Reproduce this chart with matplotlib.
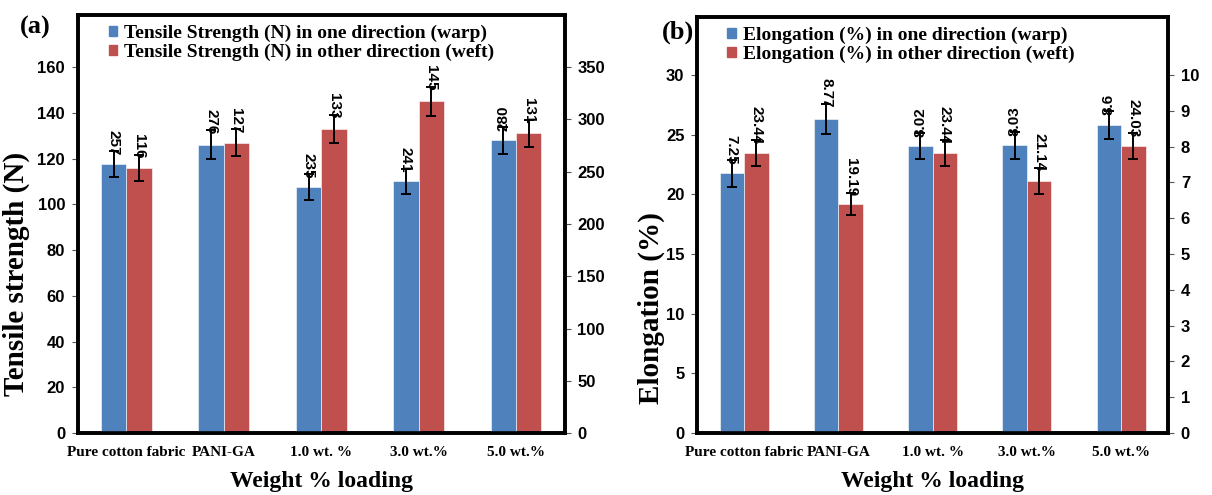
import matplotlib.pyplot as plt
import numpy as np

categories = ['Pure cotton fabric', 'PANI-GA', '1.0 wt. %', '3.0 wt.%', '5.0 wt.%']

# (a) tensile strength: warp read on the right axis, weft on the left axis
warp_strength = [257, 276, 235, 241, 280]
warp_strength_err = [12.5, 13.5, 12.5, 12, 13]
weft_strength = [116, 127, 133, 145, 131]
weft_strength_err = [5.7, 6.0, 6.2, 6.5, 6.0]
warp_strength_labels = ['257', '276', '235', '241', '280']
weft_strength_labels = ['116', '127', '133', '145', '131']
warp_strength_rot = [270, 270, 270, 270, 90]
weft_strength_rot = [270, 270, 270, 270, 270]

# (b) elongation: warp read on the right axis, weft on the left axis
warp_elong = [7.25, 8.77, 8.02, 8.03, 8.6]
warp_elong_err = [0.37, 0.42, 0.37, 0.37, 0.4]
weft_elong = [23.44, 19.19, 23.44, 21.14, 24.03]
weft_elong_err = [1.1, 0.95, 1.1, 1.1, 1.1]
warp_elong_labels = ['7.25', '8.77', '8.02', '8.03', '8.6']
weft_elong_labels = ['23.44', '19.19', '23.44', '21.14', '24.03']
warp_elong_rot = [270, 270, 90, 90, 90]
weft_elong_rot = [270, 270, 270, 270, 270]

BLUE = '#4F81BD'
RED = '#C0504D'
SERIF = 'Liberation Serif'
SANS = 'Liberation Sans'


def draw_panel(fig, rect, tag, left, right, left_lim, left_ticks, right_lim, right_ticks,
               ylabel, ylabel_xy, legend_labels, tag_xy):
    ax = fig.add_axes(rect)
    ax2 = ax.twinx()
    x = np.arange(len(categories))
    w = 0.26

    # blue (warp) series is scaled on the right axis, red (weft) on the left
    for a, (vals, err, labels, rots), dx, col in ((ax2, right, -w / 2, BLUE), (ax, left, w / 2, RED)):
        a.bar(x + dx, vals, w, color=col, edgecolor='white', linewidth=0.4, zorder=2)
        a.errorbar(x + dx, vals, yerr=err, fmt='none', ecolor='black',
                   elinewidth=1.4, capsize=3.5, capthick=1.4, zorder=3)
        for xi, v, e, s, r in zip(x, vals, err, labels, rots):
            ax2.annotate(s, (xi + dx, v + e), xycoords=a.transData, xytext=(0, -4),
                         textcoords='offset pixels', rotation=r, ha='center', va='bottom',
                         fontsize=11, fontweight='bold', family=SANS, zorder=4)

    ax.set_xlim(-0.5, len(categories) - 0.5)
    ax.set_ylim(*left_lim)
    ax2.set_ylim(*right_lim)
    ax.set_yticks(left_ticks)
    ax2.set_yticks(right_ticks)
    ax.set_xticks(x)
    ax.set_xticklabels(categories, fontsize=11, fontweight='bold', family=SERIF)
    ax.tick_params(axis='x', length=0, pad=9)
    for a in (ax, ax2):
        a.tick_params(axis='y', length=4, width=0.8, color='#555555', labelsize=12, pad=5)
        for lab in a.get_yticklabels():
            lab.set_family(SANS)
            lab.set_fontweight('bold')
        for sp in a.spines.values():
            sp.set_linewidth(2.6)
    ax.set_ylabel(ylabel, fontsize=21, fontweight='bold', family=SERIF)
    ax.yaxis.set_label_coords(*ylabel_xy)
    ax.set_xlabel('Weight % loading', fontsize=17, fontweight='bold', family=SERIF, labelpad=9)

    handles = [plt.Rectangle((0, 0), 1, 1, color=BLUE), plt.Rectangle((0, 0), 1, 1, color=RED)]
    ax.legend(handles, legend_labels, loc='upper left', bbox_to_anchor=(0.04, 1.005), frameon=False,
              handlelength=0.45, handleheight=0.45, handletextpad=0.35, labelspacing=0.1,
              borderaxespad=0.2, prop={'family': SERIF, 'weight': 'bold', 'size': 14})
    fig.text(tag_xy[0], tag_xy[1], tag, fontsize=19, fontweight='bold', family=SERIF,
             ha='left', va='center')
    return ax, ax2


fig = plt.figure(figsize=(12.12, 4.95), dpi=100)

draw_panel(fig, [0.064, 0.125, 0.402, 0.845], '(a)',
           (weft_strength, weft_strength_err, weft_strength_labels, weft_strength_rot),
           (warp_strength, warp_strength_err, warp_strength_labels, warp_strength_rot),
           (0, 182.86), np.arange(0, 161, 20), (0, 400), np.arange(0, 351, 50),
           'Tensile strength (N)', (-0.097, 0.38),
           ['Tensile Strength (N) in one direction (warp)',
            'Tensile Strength (N) in other direction (weft)'],
           (0.016, 0.945))

draw_panel(fig, [0.575, 0.125, 0.389, 0.841], '(b)',
           (weft_elong, weft_elong_err, weft_elong_labels, weft_elong_rot),
           (warp_elong, warp_elong_err, warp_elong_labels, warp_elong_rot),
           (0, 34.87), np.arange(0, 31, 5), (0, 11.62), np.arange(0, 11, 1),
           'Elongation (%)', (-0.068, 0.30),
           ['Elongation (%) in one direction (warp)',
            'Elongation (%) in other direction (weft)'],
           (0.546, 0.935))

fig.savefig('out.png', dpi=100)
